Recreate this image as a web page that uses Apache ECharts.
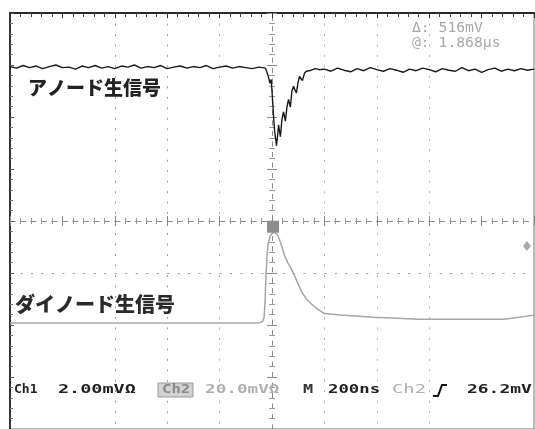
<!DOCTYPE html>
<html><head><meta charset="utf-8">
<script src="https://cdn.jsdelivr.net/npm/echarts@6/dist/echarts.min.js"></script>
<style>html,body{margin:0;padding:0;background:#fff}#c{width:535px;height:429px}</style>
</head><body><div id="c"></div>
<script>
// time in ns (200 ns/div, trigger at 0), amplitude in screen divisions
const anodeTimes = [
  -1000,-975,-950,-925,-900,-875,-850,-825,-800,-775,-750,-725,-700,-675,-650,-625,-600,-575,-550,-525,
  -500,-475,-450,-425,-400,-375,-350,-325,-300,-275,-250,-225,-200,-175,-150,-125,-100,-75,-50,-25,
  -15,-8,-3,2,6,10,14,17,21,25,32,38,44,51,57,63,70,76,82,93,99,105,116,124,131,150,165,181,
  200,225,250,275,300,325,350,375,400,425,450,475,500,525,550,575,600,625,650,675,700,725,750,775,800,825,850,875,900,925,950,975,1000
];
const anodeValues = [
  2.97,2.94,2.99,2.95,2.98,2.93,2.97,3.00,2.95,2.96,2.92,2.98,2.95,2.99,2.94,2.97,2.93,2.98,2.96,3.00,
  2.94,2.97,2.95,2.99,2.93,2.96,2.98,2.94,2.97,2.95,2.99,2.93,2.96,2.98,2.94,2.97,2.95,2.93,2.96,2.94,
  2.80,2.65,2.72,2.34,2.00,1.73,1.58,1.45,1.62,1.85,1.62,1.96,2.10,1.92,2.19,2.34,2.19,2.50,2.59,2.46,2.65,2.78,2.70,2.84,2.88,2.90,2.93,2.91,
  2.92,2.88,2.94,2.90,2.87,2.93,2.89,2.95,2.91,2.88,2.93,2.90,2.86,2.92,2.89,2.94,2.91,2.87,2.93,2.90,2.88,2.95,2.89,2.92,2.86,2.91,2.94,2.88,2.92,2.89,2.93,2.90,2.92
];
const dynodeTimes = [-1000,-50,-36,-30,-27,-24,-20,-15,-8,0,10,20,29,40,48,60,74,85,97,116,133,150,165,181,200,261,390,562,790,886,943,1000];
const dynodeValues = [-1.96,-1.96,-1.93,-1.85,-1.60,-1.20,-0.75,-0.45,-0.30,-0.24,-0.22,-0.26,-0.36,-0.53,-0.66,-0.80,-0.92,-1.04,-1.18,-1.39,-1.51,-1.59,-1.66,-1.72,-1.78,-1.81,-1.85,-1.89,-1.89,-1.89,-1.85,-1.81];
const triggerMarker = [4, -0.11];
const levelMarker = [973, -0.48];

const xMin = -1000, xMax = 1000, xStep = 200;
const yMin = -4, yMax = 4, yStep = 1;

const anodeData = anodeTimes.map((t, i) => [t, anodeValues[i]]);
const dynodeData = dynodeTimes.map((t, i) => [t, dynodeValues[i]]);

const T = 'transparent';
const dot = [2, 8.48];
const chart = echarts.init(document.getElementById('c'), null, {renderer: 'canvas'});

function centerAxisX(inside) {
  return {
    type: 'value', min: xMin, max: xMax, interval: xStep, position: 'bottom',
    axisLine: {show: true, onZero: true, onZeroAxisIndex: 0, lineStyle: {color: '#8c8c8c', width: 1, type: [5, 5.48]}},
    axisTick: {show: true, inside: inside, length: 5, lineStyle: {color: '#888'}},
    minorTick: {show: true, splitNumber: 5, length: 3, lineStyle: {color: '#999'}},
    axisLabel: {show: false}, splitLine: {show: false}
  };
}
function centerAxisY(inside) {
  return {
    type: 'value', min: yMin, max: yMax, interval: yStep, position: 'right',
    axisLine: {show: true, onZero: true, onZeroAxisIndex: 0, lineStyle: {color: '#8c8c8c', width: 1, type: [4, 6.48]}},
    axisTick: {show: true, inside: inside, length: 5, lineStyle: {color: '#888'}},
    minorTick: {show: true, splitNumber: 5, length: 3, lineStyle: {color: '#999'}},
    axisLabel: {show: false}, splitLine: {show: false}
  };
}

const monoB = 'bold 13px "DejaVu Sans Mono"';
const option = {
  animation: false,
  backgroundColor: '#fff',
  grid: {left: 10, top: 13, width: 524, height: 420, show: true, borderColor: '#777', borderWidth: 1},
  xAxis: [
    {
      type: 'value', min: xMin, max: xMax, interval: xStep, position: 'top',
      axisLine: {show: true, onZero: false, lineStyle: {color: '#2a2a2a', width: 2}},
      axisTick: {show: true, inside: true, length: 5, lineStyle: {color: '#333'}},
      minorTick: {show: true, splitNumber: 5, length: 4, lineStyle: {color: '#444'}},
      axisLabel: {show: false},
      splitLine: {show: true, lineStyle: {color: [T, T, '#9a9a9a', '#a0a0a0', '#b0b0b0', T, '#b0b0b0', '#b4b4b4', '#b4b4b4', T, T], width: 1, type: dot}}
    },
    centerAxisX(true),
    centerAxisX(false)
  ],
  yAxis: [
    {
      type: 'value', min: yMin, max: yMax, interval: yStep, position: 'left',
      axisLine: {show: true, onZero: false, lineStyle: {color: '#333', width: 2}},
      axisTick: {show: true, inside: true, length: 4, lineStyle: {color: '#555'}},
      minorTick: {show: true, splitNumber: 5, length: 3, lineStyle: {color: '#777'}},
      axisLabel: {show: false},
      splitLine: {show: true, lineStyle: {color: [T, T, T, '#9a9a9a', T, T, T, T, T], width: 1, type: dot}}
    },
    centerAxisY(true),
    centerAxisY(false)
  ],
  series: [
    {
      name: 'dynode', type: 'line', xAxisIndex: 0, yAxisIndex: 0, data: dynodeData,
      showSymbol: false, symbol: 'none', lineStyle: {color: '#a6a6a6', width: 1.5}, z: 3,
      markPoint: {
        symbol: 'rect', symbolSize: 12, silent: true, label: {show: false},
        itemStyle: {color: '#8d8d8d'},
        data: [
          {coord: triggerMarker},
          {coord: levelMarker, symbol: 'diamond', symbolSize: [8, 10], itemStyle: {color: '#aaa'}}
        ]
      }
    },
    {
      name: 'anode', type: 'line', xAxisIndex: 0, yAxisIndex: 0, data: anodeData,
      showSymbol: false, symbol: 'none', lineStyle: {color: '#1a1a1a', width: 1.4}, z: 4
    }
  ],
  graphic: [
    {type: 'text', x: 28, y: 88, z: 10, style: {text: 'アノード生信号', font: '900 19px "Noto Sans CJK JP"', fill: '#222', align: 'left', verticalAlign: 'middle'}},
    {type: 'text', x: 15, y: 304, z: 10, style: {text: 'ダイノード生信号', font: '900 20px "Noto Sans CJK JP"', fill: '#2a2a2a', align: 'left', verticalAlign: 'middle'}},
    {type: 'text', x: 412, y: 28, scaleX: 1.05, z: 10, style: {text: 'Δ: 516mV', font: '14px "DejaVu Sans Mono"', fill: '#a8a8a8', align: 'left', verticalAlign: 'middle'}},
    {type: 'text', x: 412, y: 43, scaleX: 1.05, z: 10, style: {text: '@: 1.868µs', font: '14px "DejaVu Sans Mono"', fill: '#a8a8a8', align: 'left', verticalAlign: 'middle'}},
    {type: 'text', x: 14, y: 390, scaleX: 1.0, z: 10, style: {text: 'Ch1', font: monoB, fill: '#222', align: 'left', verticalAlign: 'middle'}},
    {type: 'text', x: 58, y: 390, scaleX: 1.42, z: 10, style: {text: '2.00mVΩ', font: monoB, fill: '#222', align: 'left', verticalAlign: 'middle'}},
    {type: 'rect', z: 10, shape: {x: 158, y: 383, width: 35, height: 14}, style: {fill: '#d2d2d2', stroke: '#9a9a9a', lineWidth: 1}},
    {type: 'text', x: 162, y: 390, scaleX: 1.2, z: 11, style: {text: 'Ch2', font: monoB, fill: '#8a8a8a', align: 'left', verticalAlign: 'middle'}},
    {type: 'text', x: 205, y: 390, scaleX: 1.36, z: 10, style: {text: '20.0mVΩ', font: monoB, fill: '#b0b0b0', align: 'left', verticalAlign: 'middle'}},
    {type: 'text', x: 303, y: 390, scaleX: 1.3, z: 10, style: {text: 'M', font: monoB, fill: '#333', align: 'left', verticalAlign: 'middle'}},
    {type: 'text', x: 328, y: 390, scaleX: 1.33, z: 10, style: {text: '200ns', font: monoB, fill: '#222', align: 'left', verticalAlign: 'middle'}},
    {type: 'text', x: 392, y: 390, scaleX: 1.45, z: 10, style: {text: 'Ch2', font: '13px "DejaVu Sans Mono"', fill: '#b0b0b0', align: 'left', verticalAlign: 'middle'}},
    {type: 'polyline', z: 10, shape: {points: [[433, 396], [438, 396], [442, 385], [447, 385]]}, style: {stroke: '#111', lineWidth: 2, fill: null}},
    {type: 'text', x: 467, y: 390, scaleX: 1.38, z: 10, style: {text: '26.2mV', font: monoB, fill: '#222', align: 'left', verticalAlign: 'middle'}}
  ]
};
chart.setOption(option);
</script>
</body></html>
